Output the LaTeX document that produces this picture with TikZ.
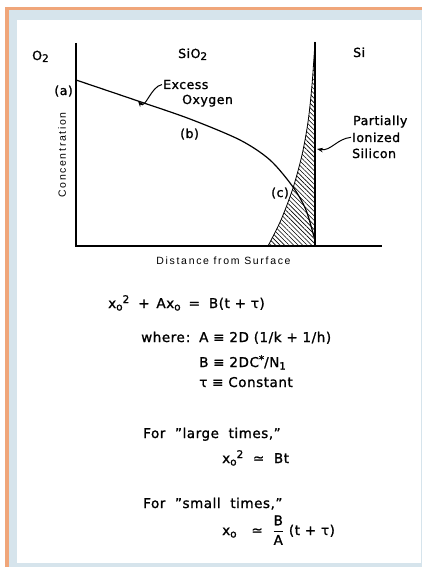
\documentclass[tikz,border=0pt]{standalone}
\usepackage{amsmath}
\usepackage{fontspec}
\setmainfont{DejaVu Sans}[FakeBold=1.2,LetterSpace=4]
\newfontfamily\axisfont[LetterSpace=16]{Liberation Sans}
\usetikzlibrary{arrows.meta,patterns.meta}
\definecolor{frameorange}{RGB}{240,166,122}
\definecolor{frameblue}{RGB}{214,228,236}
\newcommand\subo{\raisebox{-2.5pt}{\fontsize{10.5}{10}\selectfont o}}
\newcommand\suptwo{\raisebox{5pt}{\fontsize{10.5}{10}\selectfont 2}}
\newcommand\xo{x\subo}
\begin{document}
\begin{tikzpicture}[x=1pt,y=-1pt,
  axisline/.style={line width=1.4pt, black},
  curveline/.style={line width=1.2pt},
  lbl/.style={font=\fontsize{12.5}{14}\selectfont, inner sep=0pt, anchor=base west},
  eqn/.style={font=\fontsize{13.5}{15}\selectfont, inner sep=0pt, anchor=base west},
  axlbl/.style={font=\axisfont\fontsize{10.5}{12}\selectfont, inner sep=0pt},
  pointer/.style={line width=1pt, -{Stealth[length=6pt,width=4.5pt]}},
  hatchfill/.style={pattern={Lines[angle=-45,distance=3.2pt,line width=0.6pt]}},
]
\useasboundingbox (0,0) rectangle (422,567);
\fill[frameorange] (5,7) rectangle (422,567);
\fill[frameblue] (9,10) rectangle (422,567);
\fill[white] (17,20) rectangle (420.5,563);

% axes coordinates
\coordinate (origin) at (76,246);
\coordinate (ytop) at (76,43);
\coordinate (xend) at (382,246);
\coordinate (itop) at (315,42);
\coordinate (ibot) at (315,246);

% hatched partially ionized silicon
\fill[hatchfill] plot[smooth] coordinates {(268,246) (281,220) (293,188) (302,155) (308,122) (312,85) (315,42)} -- (ibot) -- cycle;
\draw[line width=0.8pt] plot[smooth] coordinates {(268,246) (281,220) (293,188) (302,155) (308,122) (312,85) (315,42)};

% oxygen concentration curve
\draw[curveline] plot[smooth] coordinates {(76,80) (138,101) (190,119) (240,140) (270,160) (293,187) (306,210) (314,237)};

% axes
\draw[axisline] (ytop) -- (origin) -- (xend);
\draw[axisline] (itop) -- (ibot);

% region labels
\node[lbl] (o2) at (32,60) {O\raisebox{-2pt}{\fontsize{10.5}{10}\selectfont 2}};
\node[lbl] (sio2) at (178,58) {SiO\raisebox{-2pt}{\fontsize{10.5}{10}\selectfont 2}};
\node[lbl] (si) at (353,57) {Si};
\node[lbl, anchor=base east] (pa) at (73,95) {(a)};
\node[lbl] (pb) at (180,138) {(b)};
\node[lbl] (pc) at (271,197) {(c)};
\node[lbl] (excess) at (163,89) {Excess};
\node[lbl] (oxygen) at (182,104) {Oxygen};
\node[lbl] (partially) at (353,125) {Partially};
\node[lbl] (ionized) at (352,142) {Ionized};
\node[lbl] (silicon) at (352,158) {Silicon};

\coordinate (exTip) at (138,101);
\coordinate (psTip) at (317,149);
\draw[pointer] ([xshift=-1pt]excess.west) to[out=190,in=-50] (exTip);
\draw[pointer] ([xshift=-1pt]ionized.west) to[out=185,in=-10] (psTip);

\node[axlbl, rotate=90] (conc) at (62,155) {Concentration};
\node[axlbl, anchor=base] (dist) at (223.5,264) {Distance from Surface};

% equations
\node[eqn] (eq1) at (108,308) {\xo\suptwo\hspace{9pt}+\hspace{2pt} A\xo\hspace{8pt}=\hspace{9pt}B(t + τ)};
\node[eqn] (where) at (141,342) {where\hspace{1pt}:};
\node[eqn] (adef) at (199,342) {A ≡ 2D (1/k + 1/h)};
\node[eqn] (bdef) at (199,367) {B ≡\ 2DC\raisebox{4pt}{\fontsize{10.5}{10}\selectfont *}/N\raisebox{-2.5pt}{\fontsize{10}{10}\selectfont 1}};
\node[eqn] (tdef) at (199,387) {τ ≡\ Constant};
\node[eqn] (large) at (143,438) {For\ \ "large\ \ times,"};
\node[eqn] (largeeq) at (222,463) {\xo\suptwo\ \ ≃\ \ Bt};
\node[eqn] (small) at (143,508) {For\ \ "small\ \ times,"};
\node[eqn] (smalleq) at (222,535) {\xo\hspace{10pt} ≃\ \ \(\dfrac{\mbox{B}}{\mbox{A}}\)\ (t + τ)};
\end{tikzpicture}
\end{document}
